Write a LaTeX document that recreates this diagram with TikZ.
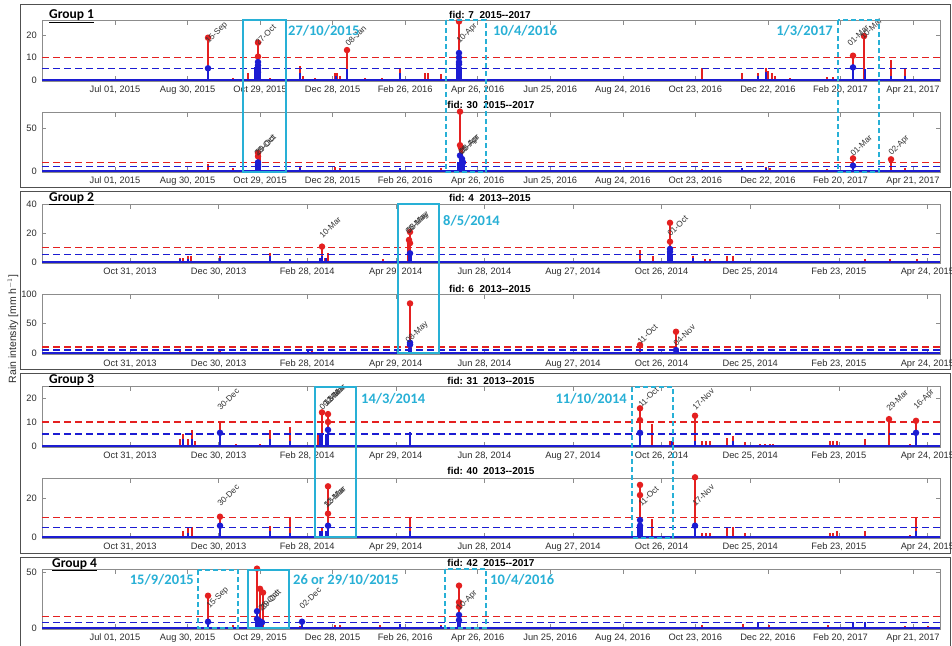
\documentclass[tikz,border=0pt]{standalone}
\usepackage{fontspec}
\setmainfont{Liberation Sans}
\newfontfamily\grpfont{Carlito}
\definecolor{myred}{RGB}{228,32,32}
\definecolor{myblue}{RGB}{28,28,210}
\definecolor{cyanbox}{RGB}{40,176,214}
\definecolor{axgray}{RGB}{140,140,140}
\definecolor{txtgray}{RGB}{45,45,45}
\definecolor{framegray}{RGB}{80,80,80}
\tikzset{
  axbox/.style={draw=axgray, line width=0.6pt},
  tickst/.style={draw=axgray, line width=0.6pt},
  xlab/.style={font=\fontsize{9.3}{9.3}\selectfont, text=txtgray, inner sep=0pt},
  ylab/.style={font=\fontsize{9.3}{9.3}\selectfont, text=txtgray, anchor=east, inner sep=0pt},
  ttl/.style={font=\bfseries\fontsize{10}{10}\selectfont, inner sep=0pt},
  grp/.style={font=\grpfont\bfseries\fontsize{13.5}{13.5}\selectfont, anchor=base west, inner sep=0pt},
  rstem/.style={draw=myred, line width=1.5pt},
  bstem/.style={draw=myblue, line width=1.5pt},
  rdot/.style={circle, fill=myred, inner sep=0pt, minimum size=6.5pt},
  bdot/.style={circle, fill=myblue, inner sep=0pt, minimum size=6.5pt},
  rthr/.style={draw=myred, dash pattern=on 7pt off 4pt, line width=1.3pt},
  bthr/.style={draw=myblue, dash pattern=on 7pt off 4pt, line width=1.3pt},
  base/.style={draw=myblue, line width=1.7pt},
  dlab/.style={rotate=45, anchor=south west, font=\fontsize{8.3}{8.3}\selectfont, inner sep=0.5pt, text=black!80},
  hl/.style={draw=cyanbox, line width=2.2pt},
  hld/.style={draw=cyanbox, line width=2.2pt, dash pattern=on 5pt off 3pt},
  hltxt/.style={font=\grpfont\bfseries\fontsize{14.5}{14.5}\selectfont, text=cyanbox, inner sep=0pt},
  grpframe/.style={draw=framegray, line width=0.9pt}
}
\newcommand\rst[2]{\draw[rstem] (#1,0) -- (#1,#2);}
\newcommand\bst[2]{\draw[bstem] (#1,0) -- (#1,#2);}
\newcommand\rdt[2]{\node[rdot] at (#1,#2) {};}
\newcommand\bdt[2]{\node[bdot] at (#1,#2) {};}
\newcommand\thr{\draw[rthr] (42,10) -- (940,10); \draw[bthr] (42,5) -- (940,5); \draw[base] (42,0) -- (940,0);}
\newcommand\yt[2]{\draw[tickst] (42,#1) -- ++(4,0) (940,#1) -- ++(-4,0); \node[ylab] at (37,#1) {#2};}
\newcommand\axA[3]{%
  \draw[axbox] (42,#1) rectangle (940,#2+1);
  \foreach \lab [count=\i from 0] in {{Jul 01, 2015},{Aug 30, 2015},{Oct 29, 2015},{Dec 28, 2015},{Feb 26, 2016},{Apr 26, 2016},{Jun 25, 2016},{Aug 24, 2016},{Oct 23, 2016},{Dec 22, 2016},{Feb 20, 2017},{Apr 21, 2017}}{%
    \pgfmathsetmacro\xx{115+72.545*\i}
    \draw[tickst] (\xx,#1) -- ++(0,5) (\xx,#2+1) -- ++(0,-5);
    \node[xlab] at (\xx,#3) {\lab};
  }%
}
\newcommand\axB[3]{%
  \draw[axbox] (42,#1) rectangle (940,#2+1);
  \foreach \lab [count=\i from 0] in {{Oct 31, 2013},{Dec 30, 2013},{Feb 28, 2014},{Apr 29, 2014},{Jun 28, 2014},{Aug 27, 2014},{Oct 26, 2014},{Dec 25, 2014},{Feb 23, 2015},{Apr 24, 2015}}{%
    \pgfmathsetmacro\xx{130+88.6*\i}
    \draw[tickst] (\xx,#1) -- ++(0,5) (\xx,#2+1) -- ++(0,-5);
    \node[xlab] at (\xx,#3) {\lab};
  }%
}
\begin{document}
\begin{tikzpicture}[x=1pt,y=-1pt]
\clip (0,0) rectangle (952,645);
\fill[white] (0,0) rectangle (952,645);
% group frames
\draw[grpframe] (20,4) rectangle (950,187);
\draw[grpframe] (20,191) rectangle (950,369);
\draw[grpframe] (20,373) rectangle (950,553);
\draw[grpframe] (20,557) rectangle (950,660);
\node[rotate=90, font=\fontsize{10.5}{10.5}\selectfont, text=txtgray] (ylabel) at (13,329) {Rain intensity [mm h$^{-1}$]};

% ===== Group 1, fid 7
\axA{20}{80}{90}
\yt{80}{0}\yt{57.5}{10}\yt{35}{20}
\begin{scope}[shift={(0,80)}, y=2.25pt]
 \foreach \x/\v in {233/1,248/3,270/0.8,300/6.4,303/2,315/1,335/3,337/3,340/2,365/1,382/1,400/5.5,425/3,428/3,441/2.5,702/5.2,742/3,758/3,766/5.5,768/4,772/3,775/2,790/0.8,827/1.5,833/1.5,891/8.9,905/5,208/18.8,258/16.6,347/13.3,459/26,853/10.8,864/19.5}{\rst{\x}{\v}}
 \foreach \x/\v in {208/5.2,255/6,256/7,257/8.5,258/8,259/7,260/6,300/3,336/2,347/5,400/3,457/8,459/12,460/10,461/6,758/2,766/3.5,853/5.6,865/5,891/2,905/2}{\bst{\x}{\v}}
 \thr
 \foreach \x/\v in {208/18.8,258/16.6,258/10.4,347/13.3,459/26,853/10.8,864/19.5}{\rdt{\x}{\v}}
 \foreach \x/\v in {208/5.2,258/8,258/6.5,258/5,258/3.5,459/12,459/10,459/8,459/7,853/5.6}{\bdt{\x}{\v}}
\end{scope}
\node[dlab] (l1) at (210,46) {15-Sep};
\node[dlab] (l2) at (259,47) {27-Oct};
\node[dlab] (l3) at (349,48) {08-Jan};
\node[dlab] (l4) at (461,46) {10-Apr};
\node[dlab] (l5) at (851,48) {01-Mar};
\node[dlab] (l6) at (864,41) {10-Mar};
\node[ttl] (t7) at (490,15) {fid: 7\ \ 2015-{}-2017};

% ===== Group 1, fid 30
\axA{112}{171}{181}
\yt{171}{0}\yt{128}{50}
\begin{scope}[shift={(0,171)}, y=0.86pt]
 \foreach \x/\v in {208/8,233/4,258/21,260/17,300/5,335/5,340/4,400/4,441/3,460/69,462/30,702/2,742/4,766/5,770/3,827/2,853/14.7,891/13.6,905/3}{\rst{\x}{\v}}
 \foreach \x/\v in {256/8,258/10,259/7,260/5,300/3,400/3,458/10,460/18,461/14,463/10,464/7,742/3,766/3,853/6.2}{\bst{\x}{\v}}
 \thr
 \foreach \x/\v in {258/21,258/17,460/69,460/30,461/27,853/14.7,891/13.6}{\rdt{\x}{\v}}
 \foreach \x/\v in {258/10,258/7,258/5,460/18,462/14,463/10,853/6.2}{\bdt{\x}{\v}}
\end{scope}
\node[dlab] (m1) at (258,158) {28-Oct};
\node[dlab] (m2) at (259,157) {29-Oct};
\node[dlab] (m3) at (463,158) {08-Apr};
\node[dlab] (m4) at (464,157) {08-Apr};
\node[dlab] (m5) at (854,158) {01-Mar};
\node[dlab] (m6) at (893,158) {02-Apr};
\node[ttl] (t30) at (491,104.5) {fid: 30\ \ 2015-{}-2017};

% ===== Group 2, fid 4
\axB{204}{262}{272}
\yt{262}{0}\yt{233}{20}\yt{204}{40}
\begin{scope}[shift={(0,262)}, y=1.45pt]
 \foreach \x/\v in {150/1,180/3,183/3,188/4,191/4,194/1,220/4,270/6,290/2,322/10.6,325/3,328/6,383/2,408/13,410/20.7,640/8.3,653/4,670/27,693/4,705/2,710/2,727/4,733/4,765/1,773/1,834/1,865/2,890/2,917/2}{\rst{\x}{\v}}
 \foreach \x/\v in {180/2,188/2,220/3,270/4,290/2,320/3,322/4,326/3,409/6,411/5,640/2,668/7,669/9,670/9,671/8,672/5,693/3}{\bst{\x}{\v}}
 \thr
 \foreach \x/\v in {322/10.6,410/20.7,409/15.2,410/13,670/27,670/14}{\rdt{\x}{\v}}
 \foreach \x/\v in {410/6,670/9,670/7}{\bdt{\x}{\v}}
\end{scope}
\node[dlab] (n1) at (323,240) {10-Mar};
\node[dlab] (n2) at (410,237) {06-May};
\node[dlab] (n3) at (411,236) {08-May};
\node[dlab] (n4) at (671,238) {01-Oct};
\node[ttl] (t4) at (490,197.5) {fid: 4\ \ 2013-{}-2015};

% ===== Group 2, fid 6
\axB{294}{353}{364}
\yt{353}{0}\yt{323.5}{50}\yt{294}{100}
\begin{scope}[shift={(0,353)}, y=0.59pt]
 \foreach \x/\v in {180/3,188/2,220/3,308/5,312/4,410/84,640/13.6,676/36,705/2,727/2,733/2}{\rst{\x}{\v}}
 \foreach \x/\v in {308/4,409/14,410/17.5,411/10,675/5,676/5,678/3}{\bst{\x}{\v}}
 \thr
 \foreach \x/\v in {410/84,640/13.6,676/36}{\rdt{\x}{\v}}
 \foreach \x/\v in {410/17.5,410/14,676/5}{\bdt{\x}{\v}}
\end{scope}
\node[dlab] (o1) at (410,346) {08-May};
\node[dlab] (o2) at (641,346) {11-Oct};
\node[dlab] (o3) at (677,348) {04-Nov};
\node[ttl] (t6) at (490,288.5) {fid: 6\ \ 2013-{}-2015};

% ===== Group 3, fid 31
\axB{386}{446}{456}
\yt{446}{0}\yt{422}{10}\yt{398}{20}
\begin{scope}[shift={(0,446)}, y=2.4pt]
 \foreach \x/\v in {180/3,183/5,188/3,192/6.7,195/2,220/10.1,236/1,260/1,270/6.5,290/8,318/5,322/14,328/13.3,640/15.7,652/9,670/2,673/2,695/12.6,702/2,706/2,710/2,727/3.5,733/4,745/1.5,760/1,765/1,770/1,773/1,830/2,833/2,837/2,865/3,889/11.2,910/1,916/10.5}{\rst{\x}{\v}}
 \foreach \x/\v in {183/3,192/3,220/5.5,270/3,290/2,320/5,322/5,326/5,328/6.7,410/6,640/5.5,672/2,695/2,733/2,916/5.5}{\bst{\x}{\v}}
 \thr
 \foreach \x/\v in {322/14,328/13.3,328/10,640/15.7,640/10.8,695/12.6,889/11.2,916/10.5}{\rdt{\x}{\v}}
 \foreach \x/\v in {220/5.5,328/6.7,640/5.5,916/5.5}{\bdt{\x}{\v}}
\end{scope}
\node[dlab] (p1) at (221,412) {30-Dec};
\node[dlab] (p2) at (323,412) {09-Mar};
\node[dlab] (p3) at (327,408) {12-Mar};
\node[dlab] (p4) at (328,407) {13-Mar};
\node[dlab] (p5) at (642,409) {11-Oct};
\node[dlab] (p6) at (696,412) {17-Nov};
\node[dlab] (p7) at (890,413) {29-Mar};
\node[dlab] (p8) at (918,412) {16-Apr};
\node[ttl] (t31) at (491,380.5) {fid: 31\ \ 2013-{}-2015};

% ===== Group 3, fid 40
\axB{478}{537}{547}
\yt{537}{0}\yt{498}{20}
\begin{scope}[shift={(0,537)}, y=1.95pt]
 \foreach \x/\v in {183/3,188/5,192/5,220/10.4,270/5.5,290/10,322/5,328/26,410/10,640/26.7,652/9,695/30.6,702/2,706/2,710/2,727/5,733/5,745/2,830/2,833/2,837/3,865/3,910/1,916/9.6}{\rst{\x}{\v}}
 \foreach \x/\v in {188/2,220/5.8,270/3,290/2,320/3,322/3,326/3,328/5.8,410/3,638/6,640/8.7,642/6,695/5.8,916/3}{\bst{\x}{\v}}
 \thr
 \foreach \x/\v in {220/10.4,328/26,328/12,640/26.7,640/21.5,695/30.6}{\rdt{\x}{\v}}
 \foreach \x/\v in {220/5.8,328/5.8,640/8.7,640/5.8,695/5.8}{\bdt{\x}{\v}}
\end{scope}
\node[dlab] (q1) at (221,508) {30-Dec};
\node[dlab] (q2) at (327,510) {12-Mar};
\node[dlab] (q3) at (328,509) {13-Mar};
\node[dlab] (q4) at (642,508) {11-Oct};
\node[dlab] (q5) at (696,508) {17-Nov};
\node[ttl] (t40) at (491,470.5) {fid: 40\ \ 2013-{}-2015};

% ===== Group 4, fid 42
\axA{569}{628}{638}
\yt{628}{0}\yt{572}{50}
\begin{scope}[shift={(0,628)}, y=1.12pt]
 \foreach \x/\v in {208/28.8,233/3,257/53,260/35,263/31.6,300/2,335/3,340/3,380/3,400/4,441/3,459/37.8,702/3,743/4,769/3,828/3,905/2,928/2}{\rst{\x}{\v}}
 \foreach \x/\v in {208/5.6,256/10,257/15,258/8,260/7,262/5,302/5.6,400/4,441/2,458/7,459/11.6,460/8,758/5,853/5,865/5}{\bst{\x}{\v}}
 \thr
 \foreach \x/\v in {208/28.8,257/53,260/35,263/31.6,459/37.8,459/23,459/19}{\rdt{\x}{\v}}
 \foreach \x/\v in {208/5.6,257/15,257/8,260/6,262/5,302/5.6,459/11.6,459/7}{\bdt{\x}{\v}}
\end{scope}
\node[dlab] (r1) at (211,611) {15-Sep};
\node[dlab] (r2) at (262,613) {26-Oct};
\node[dlab] (r3) at (264,612) {29-Oct};
\node[dlab] (r4) at (303,611) {02-Dec};
\node[dlab] (r5) at (461,613) {10-Apr};
\node[ttl] (t42) at (491,562.5) {fid: 42\ \ 2015-{}-2017};

% ===== highlight boxes
\draw[hl]  (243,20) rectangle (286,172);
\draw[hld] (446,20) rectangle (486,172);
\draw[hld] (838,20) rectangle (879,172);
\node[hltxt, anchor=west] (h1) at (288,31) {27/10/2015};
\node[hltxt, anchor=west] (h2) at (493,31) {10/4/2016};
\node[hltxt, anchor=east] (h3) at (833,31) {1/3/2017};
\draw[hl]  (398,204) rectangle (439,353);
\node[hltxt, anchor=west] (h4) at (443,221) {8/5/2014};
\draw[hl]  (315,387) rectangle (356,537);
\node[hltxt, anchor=west] (h5) at (361,399) {14/3/2014};
\draw[hld] (632,387) rectangle (673,538);
\node[hltxt, anchor=east] (h6) at (627,399) {11/10/2014};
\draw[hld] (198,570) rectangle (238,628);
\node[hltxt, anchor=east] (h7) at (194,580) {15/9/2015};
\draw[hl]  (248,570) rectangle (289,628);
\node[hltxt, anchor=west] (h8) at (293,580) {26 or 29/10/2015};
\draw[hld] (445,569) rectangle (486,628);
\node[hltxt, anchor=west] (h9) at (490,580) {10/4/2016};

% group labels
\node[grp] (g1) at (49,18.5) {\underline{Group 1}};
\node[grp] (g2) at (49,201) {\underline{Group 2}};
\node[grp] (g3) at (49,383) {\underline{Group 3}};
\node[grp] (g4) at (52,567) {\underline{Group 4}};
\end{tikzpicture}
\end{document}
